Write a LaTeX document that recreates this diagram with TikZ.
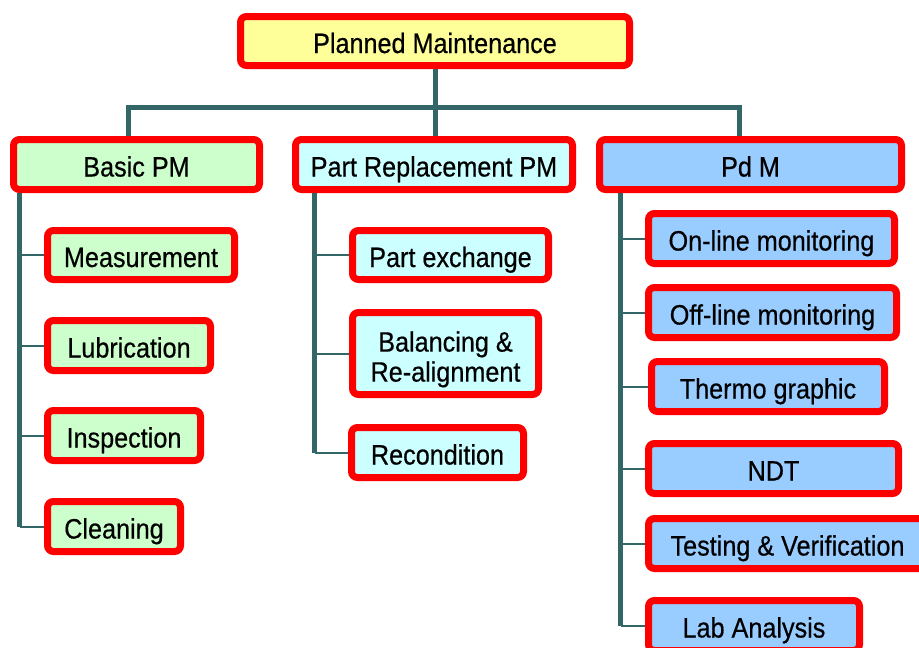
\documentclass[tikz,border=0pt]{standalone}
\usepackage{fontspec}
\setmainfont{Liberation Sans}[FakeStretch=0.9, FakeBold=0.5]
\definecolor{pmred}{HTML}{FF0000}
\definecolor{pmteal}{HTML}{336666}
\definecolor{pmyellow}{HTML}{FFFF99}
\definecolor{pmgreen}{HTML}{CCFFCC}
\definecolor{pmcyan}{HTML}{CCFFFF}
\definecolor{pmblue}{HTML}{99CCFF}
\begin{document}
\begin{tikzpicture}[x=1pt, y=-1pt,
    box/.style={draw=pmred, line width=7pt, rounded corners=6pt, inner sep=0pt,
      minimum height=50pt, text height=24pt, text depth=0pt,
      font=\fontsize{28}{30}\selectfont},
    trunk/.style={draw=pmteal, line width=5pt},
    branch/.style={draw=pmteal, line width=2pt}]
    \useasboundingbox (0,0) rectangle (919,648);
    \clip (0,0) rectangle (919,648);

    % Top
    \node[box, fill=pmyellow, minimum width=389pt, minimum height=49pt] (plan) at (435,41) {Planned Maintenance};

    % Level 1
    \node[box, fill=pmgreen, minimum width=246pt] (basic) at (136.5,164.5) {Basic PM};
    \node[box, fill=pmcyan, minimum width=277pt] (part) at (434,164.5) {Part Replacement PM};
    \node[box, fill=pmblue, minimum width=302pt] (pdm) at (750.5,164.5) {Pd M};

    % Basic PM tasks
    \node[box, fill=pmgreen, minimum width=187pt, minimum height=49pt] (meas) at (141,255) {Measurement};
    \node[box, fill=pmgreen, minimum width=163pt] (lub) at (129,345.5) {Lubrication};
    \node[box, fill=pmgreen, minimum width=153pt] (insp) at (124,435.5) {Inspection};
    \node[box, fill=pmgreen, minimum width=133pt] (clean) at (114,526.5) {Cleaning};

    % Part replacement tasks
    \node[box, fill=pmcyan, minimum width=196pt, minimum height=49pt] (pex) at (450.5,255) {Part exchange};
    \node[box, fill=pmcyan, minimum width=186pt, minimum height=82pt, align=center,
      text height=, text depth=] (bal) at (445.5,353.5) {\rule{0pt}{32pt}Balancing \&\\Re-alignment};
    \node[box, fill=pmcyan, minimum width=172pt] (recond) at (437.5,452.5) {Recondition};

    % Pd M tasks
    \node[box, fill=pmblue, minimum width=246pt] (online) at (771.5,238.5) {On-line monitoring};
    \node[box, fill=pmblue, minimum width=248pt] (offline) at (772.5,312.5) {Off-line monitoring};
    \node[box, fill=pmblue, minimum width=233pt] (thermo) at (768,386.5) {Thermo graphic};
    \node[box, fill=pmblue, minimum width=250pt] (ndt) at (773.5,468.5) {NDT};
    \node[box, fill=pmblue, minimum width=278pt] (test) at (787.5,543.5) {Testing \& Verification};
    \node[box, fill=pmblue, minimum width=211pt] (lab) at (754,625.5) {Lab Analysis};

    % Connections to the top
    \coordinate (bus) at (433,107);
    \draw[trunk] (plan.south) -- (plan.south |- part.north);
    \draw[trunk] ([xshift=-8.5pt]basic.north) -- ([xshift=-8.5pt]basic.north |- bus)
      -- ([xshift=-11.5pt]pdm.north |- bus) -- ([xshift=-11.5pt]pdm.north);

    % Task trunks
    \draw[trunk] ([xshift=9.5pt]basic.south west) -- ([xshift=9.5pt]basic.south west |- clean.west);
    \foreach \t in {meas,lub,insp,clean}
      \draw[branch] ([xshift=9.5pt]basic.south west |- \t.west) -- (\t.west);

    \draw[trunk] ([xshift=22.5pt]part.south west) -- ([xshift=22.5pt]part.south west |- recond.west);
    \foreach \t in {pex,bal,recond}
      \draw[branch] ([xshift=22.5pt]part.south west |- \t.west) -- (\t.west);

    \draw[trunk] ([xshift=24.5pt]pdm.south west) -- ([xshift=24.5pt]pdm.south west |- lab.west);
    \foreach \t in {online,offline,thermo,ndt,test,lab}
      \draw[branch] ([xshift=24.5pt]pdm.south west |- \t.west) -- (\t.west);
\end{tikzpicture}
\end{document}
